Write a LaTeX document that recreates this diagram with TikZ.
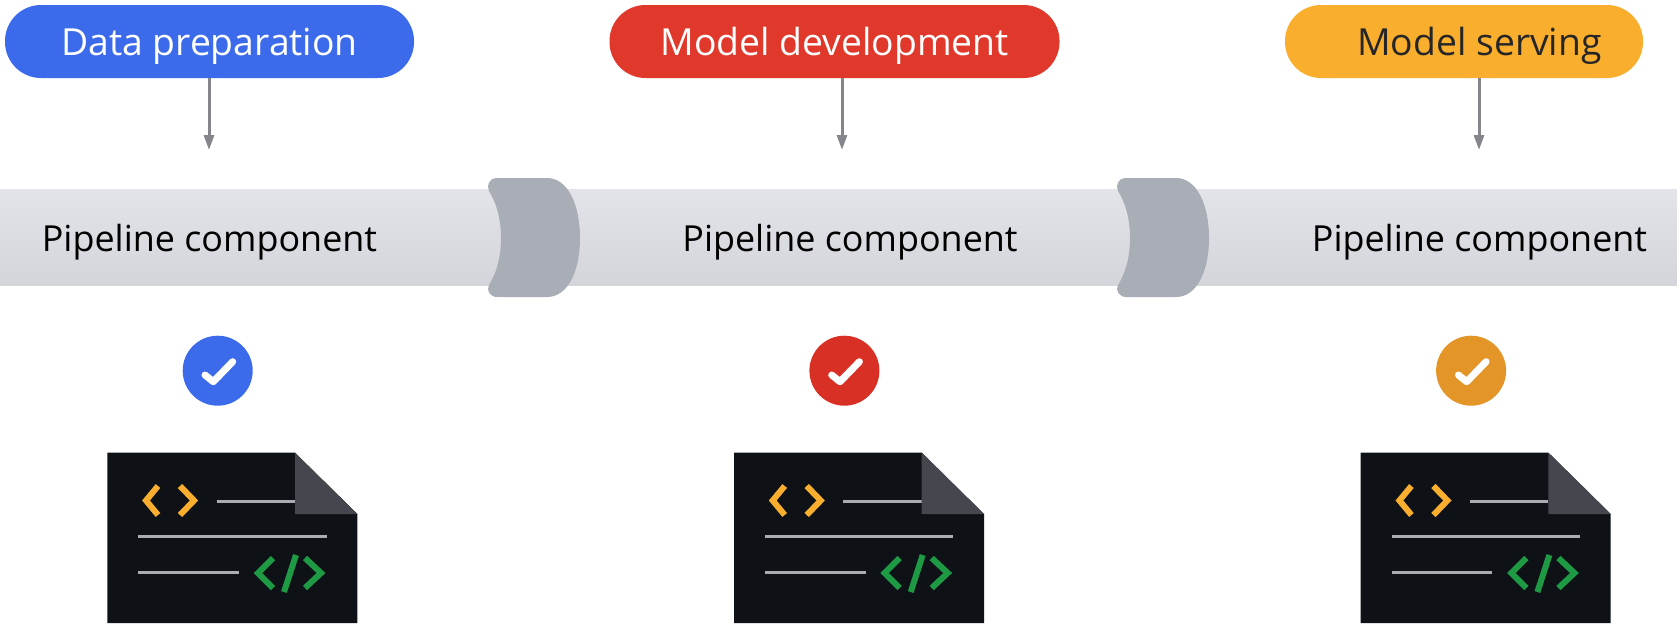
\documentclass[tikz,border=0pt]{standalone}
\usepackage{fontspec}
\setmainfont{Open Sans}
\usetikzlibrary{positioning,arrows.meta,calc}
\definecolor{prepblue}{HTML}{3B6BEB}
\definecolor{devred}{HTML}{E0382B}
\definecolor{serveamber}{HTML}{F9AE2E}
\definecolor{chkred}{HTML}{D93025}
\definecolor{chkamber}{HTML}{E39528}
\definecolor{docblack}{HTML}{0E1217}
\definecolor{foldgrey}{HTML}{44474D}
\definecolor{linegrey}{HTML}{A9ADB3}
\definecolor{collar}{HTML}{A9ADB5}
\definecolor{codeyellow}{HTML}{F9AE2E}
\definecolor{codegreen}{HTML}{1E9A45}
\definecolor{arrgrey}{HTML}{85868C}
\definecolor{pipetop}{HTML}{E3E4E9}
\definecolor{pipebot}{HTML}{D4D5DA}
\begin{document}
\begin{tikzpicture}[x=1pt,y=-1pt,
pill/.style={rounded corners=36pt,minimum height=73pt,inner sep=0pt,text height=27pt,text depth=0pt,font=\fontsize{37.3}{40}\selectfont},
comp/.style={font=\fontsize{35.9}{38}\selectfont,inner sep=0pt,text height=27pt,text depth=0pt},
arr/.style={-{Triangle[length=15pt,width=10pt]},line width=3pt,draw=arrgrey},
chk/.style={circle,minimum size=70pt,inner sep=0pt},
tick/.style={white,line width=7pt,line cap=round,line join=round},
code/.style={line width=6pt},
txtline/.style={linegrey,line width=3pt}]
\useasboundingbox (0,0) rectangle (1677,630);
% pipe
\shade[top color=pipetop,bottom color=pipebot] (0,189) rectangle (1677,285.5);
\foreach \dx in {0,629} {
\fill[collar,shift={(\dx,0)}] (496,178) -- (547,178) .. controls (568,178) and (580,205) .. (580,238)
 .. controls (580,271) and (568,297) .. (547,297) -- (497,297)
 .. controls (490,297) and (486,290) .. (489,285) .. controls (497,272) and (501,256) .. (501,238)
 .. controls (501,220) and (497,204) .. (489,191) .. controls (486,185) and (490,178) .. (496,178) -- cycle;
}
% stages
\node[pill,fill=prepblue,text=white,minimum width=409pt] (prep) at (209.5,41.5) {Data preparation};
\node[pill,fill=devred,text=white,minimum width=450pt] (dev) at (834.5,41.5) {Model development};
\node[pill,fill=serveamber,text=black!85,minimum width=358pt] (serve) at (1464,41.5) {\hspace*{31pt}Model serving};
\coordinate (prepend) at (209,150);
\coordinate (devend) at (842,150);
\coordinate (serveend) at (1479,150);
\draw[arr] (prep.south -| prepend) -- (prepend);
\draw[arr] (dev.south -| devend) -- (devend);
\draw[arr] (serve.south -| serveend) -- (serveend);
\node[comp] (compa) at (209.5,238) {Pipeline component};
\node[comp] (compb) at (850,238) {Pipeline component};
\node[comp] (compc) at (1479.5,238) {Pipeline component};
% checks and code files
\foreach \dx/\tone/\tag in {0/prepblue/a,626.7/chkred/b,1253.4/chkamber/c} {
\begin{scope}[shift={(\dx,0)}]
\node[chk,fill=\tone] (chk\tag) at (217.7,370.7) {};
\draw[tick] (205,375) -- (213.3,381.7) -- (232.7,361.7);
\fill[docblack] (107.3,452.7) -- (295,452.7) -- (357.3,514) -- (357.3,623) -- (107.3,623) -- cycle;
\draw[txtline] (216.7,501) -- (295,501);
\draw[txtline] (138.3,536.7) -- (326.7,536.7);
\draw[txtline] (138.3,572.3) -- (239,572.3);
\fill[foldgrey] (295,452.7) -- (357.3,514) -- (295,514) -- cycle;
\draw[code,codeyellow] (158,486) -- (146,500.5) -- (158,515);
\draw[code,codeyellow] (180,486) -- (194,500.5) -- (180,515);
\draw[code,codegreen] (273,558) -- (258,573) -- (273,588);
\draw[code,codegreen] (296,555) -- (284,592);
\draw[code,codegreen] (305,558) -- (321,573) -- (305,588);
\end{scope}
}
\end{tikzpicture}
\end{document}
